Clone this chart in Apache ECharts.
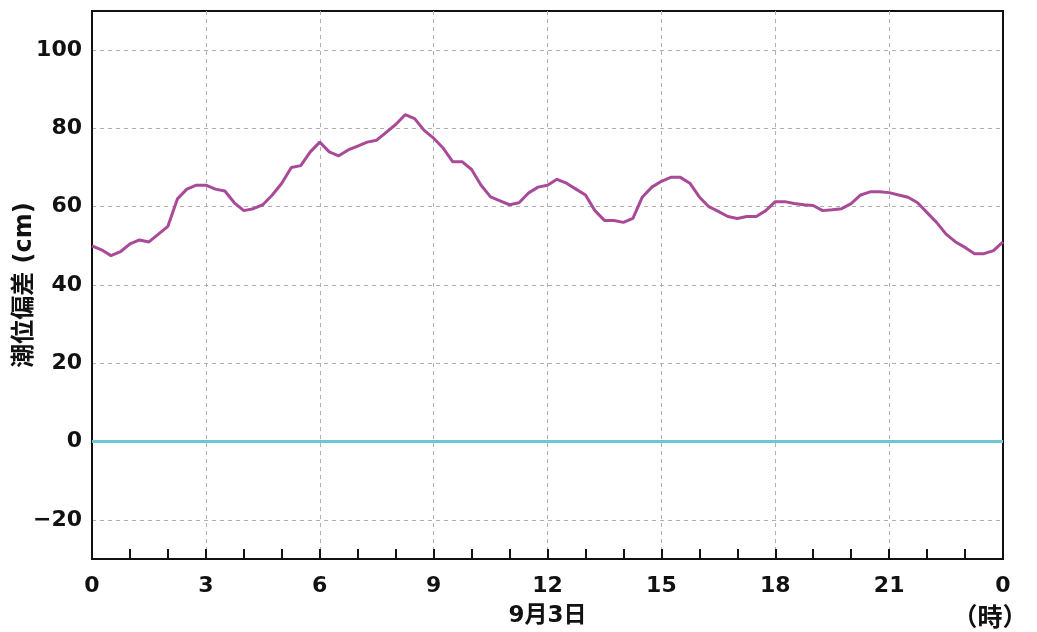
<!DOCTYPE html>
<html>
<head>
<meta charset="utf-8">
<script src="https://cdn.jsdelivr.net/npm/echarts@6/dist/echarts.min.js"></script>
<style>html,body{margin:0;padding:0;background:#fff}#c{width:1037px;height:632px}</style>
</head>
<body>
<div id="c"></div>
<script>
// time in hours (0..24), sampled every 15 minutes
const hours = [0,0.25,0.5,0.75,1,1.25,1.5,1.75,2,2.25,2.5,2.75,3,3.25,3.5,3.75,4,4.25,4.5,4.75,5,5.25,5.5,5.75,6,6.25,6.5,6.75,7,7.25,7.5,7.75,8,8.25,8.5,8.75,9,9.25,9.5,9.75,10,10.25,10.5,10.75,11,11.25,11.5,11.75,12,12.25,12.5,12.75,13,13.25,13.5,13.75,14,14.25,14.5,14.75,15,15.25,15.5,15.75,16,16.25,16.5,16.75,17,17.25,17.5,17.75,18,18.25,18.5,18.75,19,19.25,19.5,19.75,20,20.25,20.5,20.75,21,21.25,21.5,21.75,22,22.25,22.5,22.75,23,23.25,23.5,23.75,24];
// tide anomaly (cm)
const anomaly = [50,49,47.5,48.5,50.5,51.5,51,53,55,62,64.5,65.5,65.5,64.5,64,61,59,59.5,60.5,63,66,70,70.5,74,76.5,74,73,74.5,75.5,76.5,77,79,81,83.5,82.5,79.5,77.5,75,71.5,71.5,69.5,65.5,62.5,61.5,60.5,61,63.5,65,65.5,67,66,64.5,63,59,56.5,56.5,56,57,62.5,65,66.5,67.5,67.5,66,62.5,60,58.8,57.5,57,57.5,57.5,59,61.3,61.3,60.8,60.5,60.3,59,59.2,59.5,60.8,63,63.8,63.8,63.6,63,62.4,61,58.5,56,53,51,49.6,48,48,48.8,51];
// reference (zero) line
const zeroHours = [0,24];
const zeroValues = [0,0];
const xTicks = [0,3,6,9,12,15,18,21,24];
const yLabels = [-20,0,20,40,60,80,100];
const dateLabel = '9月3日';
const unitLabel = '（時）';
const yName = '潮位偏差 (cm)';

const FONT = '"DejaVu Sans", "Noto Sans CJK JP", sans-serif';
const CJK = '"Noto Sans CJK JP", sans-serif';
const chart = echarts.init(document.getElementById('c'));
chart.setOption({
  backgroundColor: '#fff',
  animation: false,
  grid: {left: 92, right: 34, top: 11, bottom: 73, outerBoundsMode: 'none', containLabel: false,
         show: true, borderColor: '#111', borderWidth: 2, backgroundColor: 'transparent'},
  xAxis: {
    type: 'value', min: 0, max: 24, interval: 3,
    axisLine: {show: true, onZero: false, lineStyle: {color: '#111', width: 2}},
    axisTick: {show: true, inside: true, length: 10, lineStyle: {color: '#111', width: 2}},
    minorTick: {show: true, splitNumber: 3, length: 10, lineStyle: {color: '#111', width: 2}},
    splitLine: {show: true, showMinLine: false, showMaxLine: false, lineStyle: {color: '#b0b0b0', type: [4, 4], width: 1}},
    axisLabel: {
      margin: 12, color: '#111', fontSize: 22, fontWeight: 'bold', fontFamily: FONT, lineHeight: 30,
      formatter: function (v) {
        if (!xTicks.includes(v)) return '';
        if (v === 12) return '12\n{d|' + dateLabel + '}';
        if (v === 24) return '0\n{u|' + unitLabel + '}';
        return String(v);
      },
      rich: {
        d: {fontSize: 23, fontWeight: 'bold', fontFamily: FONT, color: '#111', lineHeight: 30},
        u: {fontSize: 25, fontWeight: 'bold', fontFamily: CJK, color: '#111', lineHeight: 30, padding: [0, 26, 0, 0]}
      }
    }
  },
  yAxis: {
    type: 'value', min: -30, max: 110, interval: 10,
    name: yName, nameLocation: 'middle', nameGap: 55, nameMoveOverlap: false,
    nameTextStyle: {fontSize: 24, fontWeight: 'bold', fontFamily: FONT, color: '#111'},
    axisLine: {show: true, lineStyle: {color: '#111', width: 2}},
    axisTick: {show: false},
    splitLine: {show: true, showMinLine: false, showMaxLine: false, lineStyle: {color: ['#b0b0b0', 'rgba(0,0,0,0)'], type: [4, 4], width: 1}},
    axisLabel: {
      margin: 10, color: '#111', fontSize: 22, fontWeight: 'bold', fontFamily: FONT,
      formatter: function (v) { return yLabels.includes(v) ? String(v).replace('-', '\u2212') : ''; }
    }
  },
  series: [
    {
      type: 'line', data: zeroHours.map((h, i) => [h, zeroValues[i]]),
      showSymbol: false, lineStyle: {color: '#6cc6d6', width: 3}, z: 2
    },
    {
      type: 'line', data: hours.map((h, i) => [h, anomaly[i]]),
      showSymbol: false, lineStyle: {color: '#a94a98', width: 3}, z: 3
    }
  ]
});
</script>
</body>
</html>
